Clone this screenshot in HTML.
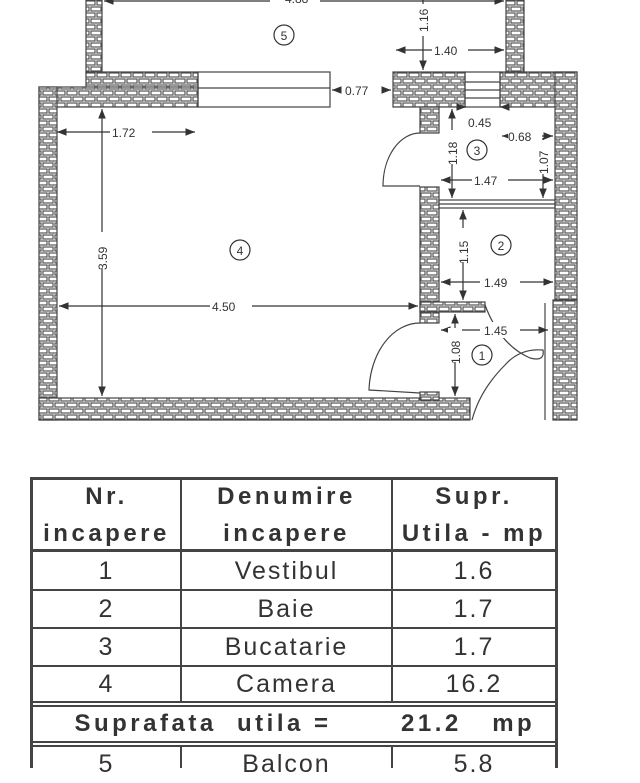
<!DOCTYPE html>
<html><head><meta charset="utf-8"><style>
html,body{margin:0;padding:0;background:#fff;width:640px;height:768px;overflow:hidden}
svg{position:absolute;left:0;top:0}
.t{font-family:"Liberation Sans",sans-serif;font-size:12px;fill:#333}
.c{position:absolute;font-family:"Liberation Sans",sans-serif;color:#333;text-align:center;font-size:25px;letter-spacing:2px;line-height:38px;white-space:nowrap}
.b{font-weight:bold;letter-spacing:3.5px;font-size:24px}
.ln{position:absolute;background:#444}
</style></head><body>
<svg width="640" height="470" viewBox="0 0 640 470">
<defs>
<pattern id="b" width="12" height="12" patternUnits="userSpaceOnUse">
<rect width="12" height="12" fill="#fff"/>
<g fill="none" stroke="#555" stroke-width="1.2">
<rect x="1" y="1" width="10" height="4"/>
<rect x="-5" y="7" width="10" height="4"/><rect x="7" y="7" width="10" height="4"/>
</g></pattern>
<marker id="a" viewBox="0 0 10 10" refX="10" refY="5" markerWidth="8" markerHeight="8" orient="auto-start-reverse"><path d="M0,1 L10,5 L0,9z" fill="#333"/></marker>
</defs>
<g fill="url(#b)" stroke="#444" stroke-width="1.2">
<rect x="86" y="0" width="16" height="74"/>
<rect x="506" y="0" width="18" height="74"/>
<rect x="86" y="72" width="112" height="16"/>
<rect x="39" y="87" width="159" height="20"/>
<rect x="39" y="87" width="18" height="333"/>
<rect x="39" y="398" width="431" height="22"/>
<rect x="393" y="72" width="72" height="35"/>
<rect x="500" y="72" width="77" height="35"/>
<rect x="555" y="72" width="22" height="231"/>
<rect x="553" y="300" width="24" height="120"/>
<rect x="420" y="107" width="19" height="26"/>
<rect x="420" y="187" width="19" height="136"/>
<rect x="420" y="302" width="65" height="10"/>
<rect x="420" y="392" width="19" height="8"/>
</g>
<g fill="none" stroke="#444" stroke-width="1.2">
<rect x="198" y="72" width="132" height="35"/>
<line x1="198" y1="88" x2="330" y2="88"/>
<rect x="465" y="72" width="35" height="35"/>
<line x1="465" y1="82" x2="500" y2="82"/><line x1="465" y1="90" x2="500" y2="90"/><line x1="465" y1="98" x2="500" y2="98"/>
<rect x="439" y="200" width="116" height="8"/><line x1="439" y1="204" x2="555" y2="204"/>
<path d="M420,133 A37,53 0 0 0 383,186 L420,186"/>
<path d="M420,323 A51,70 0 0 0 369,390 L420,393"/>
<path d="M485,305 Q500,345 530,358 Q545,362 543,350 Q520,348 505,365 Q480,390 472,420"/>
<line x1="545" y1="303" x2="545" y2="420"/>
</g>
<g stroke="#333" stroke-width="1.2" fill="none" marker-start="url(#a)" marker-end="url(#a)">
<line x1="104" y1="1" x2="504" y2="1"/>
<line x1="396" y1="50" x2="504" y2="50"/>
<line x1="57" y1="132" x2="195" y2="132"/>
<line x1="102" y1="109" x2="102" y2="396"/>
<line x1="59" y1="306" x2="418" y2="306"/>
<line x1="441" y1="180" x2="553" y2="180"/>
<line x1="441" y1="282" x2="553" y2="282"/>
<line x1="441" y1="330" x2="548" y2="330"/>
<line x1="452" y1="109" x2="452" y2="198"/>
<line x1="463" y1="210" x2="463" y2="300"/>
<line x1="455" y1="314" x2="455" y2="396"/>
<line x1="543" y1="138" x2="543" y2="198"/>
<line x1="502" y1="136" x2="553" y2="136"/>
</g>
<g stroke="#333" stroke-width="1.2" fill="#333">
<line x1="423" y1="0" x2="423" y2="70" marker-end="url(#a)"/>
<line x1="338" y1="90" x2="332" y2="90" marker-end="url(#a)"/>
<line x1="385" y1="90" x2="391" y2="90" marker-end="url(#a)"/>
<line x1="458" y1="107" x2="466" y2="107" marker-end="url(#a)"/>
<line x1="508" y1="107" x2="500" y2="107" marker-end="url(#a)"/>
</g>
<g fill="#fff">
<rect x="270" y="0" width="50" height="8"/>
<rect x="432" y="42" width="36" height="16"/>
<rect x="110" y="125" width="42" height="14"/>
<rect x="95" y="232" width="14" height="36"/>
<rect x="210" y="298" width="42" height="16"/>
<rect x="472" y="172" width="36" height="16"/>
<rect x="480" y="274" width="40" height="16"/>
<rect x="480" y="322" width="40" height="16"/>
<rect x="445" y="130" width="14" height="34"/>
<rect x="456" y="228" width="14" height="34"/>
<rect x="448" y="328" width="14" height="34"/>
<rect x="536" y="140" width="14" height="34"/>
<rect x="508" y="129" width="34" height="14"/>
<rect x="416" y="4" width="14" height="32"/>
</g>
<g class="t" font-size="14">
<text x="285" y="3">4.88</text>
<text x="434" y="55">1.40</text>
<text x="345" y="95">0.77</text>
<text x="468" y="127">0.45</text>
<text x="508" y="141">0.68</text>
<text x="112" y="137">1.72</text>
<text x="474" y="185">1.47</text>
<text x="484" y="287">1.49</text>
<text x="484" y="335">1.45</text>
<text x="212" y="311">4.50</text>
<text transform="translate(428,32) rotate(-90)">1.16</text>
<text transform="translate(457,165) rotate(-90)">1.18</text>
<text transform="translate(468,264) rotate(-90)">1.15</text>
<text transform="translate(460,364) rotate(-90)">1.08</text>
<text transform="translate(548,174) rotate(-90)">1.07</text>
<text transform="translate(107,270) rotate(-90)">3.59</text>
</g>
<g fill="none" stroke="#333" stroke-width="1.2">
<circle cx="284" cy="35" r="10"/><circle cx="240" cy="250" r="10"/><circle cx="477" cy="150" r="10"/>
<circle cx="501" cy="245" r="10"/><circle cx="482" cy="355" r="10"/>
</g>
<g class="t" text-anchor="middle" font-size="15">
<text x="284" y="40">5</text><text x="240" y="255">4</text><text x="477" y="155">3</text>
<text x="501" y="250">2</text><text x="482" y="360">1</text>
</g>
</svg>
<div class="ln" style="left:30px;top:477px;width:528px;height:3px"></div>
<div class="ln" style="left:30px;top:549px;width:528px;height:3px"></div>
<div class="ln" style="left:30px;top:589px;width:528px;height:2px"></div>
<div class="ln" style="left:30px;top:627px;width:528px;height:2px"></div>
<div class="ln" style="left:30px;top:665px;width:528px;height:2px"></div>
<div class="ln" style="left:30px;top:701px;width:528px;height:2px"></div>
<div class="ln" style="left:30px;top:705px;width:528px;height:2px"></div>
<div class="ln" style="left:30px;top:741px;width:528px;height:2px"></div>
<div class="ln" style="left:30px;top:745px;width:528px;height:2px"></div>
<div class="ln" style="left:30px;top:477px;width:3px;height:291px"></div>
<div class="ln" style="left:555px;top:477px;width:3px;height:291px"></div>
<div class="ln" style="left:180px;top:477px;width:2px;height:226px"></div>
<div class="ln" style="left:391px;top:477px;width:2px;height:226px"></div>
<div class="ln" style="left:180px;top:745px;width:2px;height:23px"></div>
<div class="ln" style="left:391px;top:745px;width:2px;height:23px"></div>
<div class="c b" style="left:33px;width:147px;top:478px;line-height:37px">Nr.<br>incapere</div>
<div class="c b" style="left:182px;width:209px;top:478px;line-height:37px">Denumire<br>incapere</div>
<div class="c b" style="left:393px;width:162px;top:478px;line-height:37px">Supr.<br>Utila - mp</div>
<div class="c" style="left:33px;width:147px;top:552px">1</div>
<div class="c" style="left:182px;width:209px;top:552px">Vestibul</div>
<div class="c" style="left:393px;width:162px;top:552px">1.6</div>
<div class="c" style="left:33px;width:147px;top:590px">2</div>
<div class="c" style="left:182px;width:209px;top:590px">Baie</div>
<div class="c" style="left:393px;width:162px;top:590px">1.7</div>
<div class="c" style="left:33px;width:147px;top:628px">3</div>
<div class="c" style="left:182px;width:209px;top:628px">Bucatarie</div>
<div class="c" style="left:393px;width:162px;top:628px">1.7</div>
<div class="c" style="left:33px;width:147px;top:665px">4</div>
<div class="c" style="left:182px;width:209px;top:665px">Camera</div>
<div class="c" style="left:393px;width:162px;top:665px">16.2</div>
<div class="c b" style="left:33px;width:340px;top:705px">Suprafata&nbsp; utila =</div>
<div class="c b" style="left:393px;width:162px;top:705px;text-align:left;padding-left:8px">21.2&nbsp;&nbsp; mp</div>
<div class="c" style="left:33px;width:147px;top:745px">5</div>
<div class="c" style="left:182px;width:209px;top:745px">Balcon</div>
<div class="c" style="left:393px;width:162px;top:745px">5.8</div>
</body></html>
